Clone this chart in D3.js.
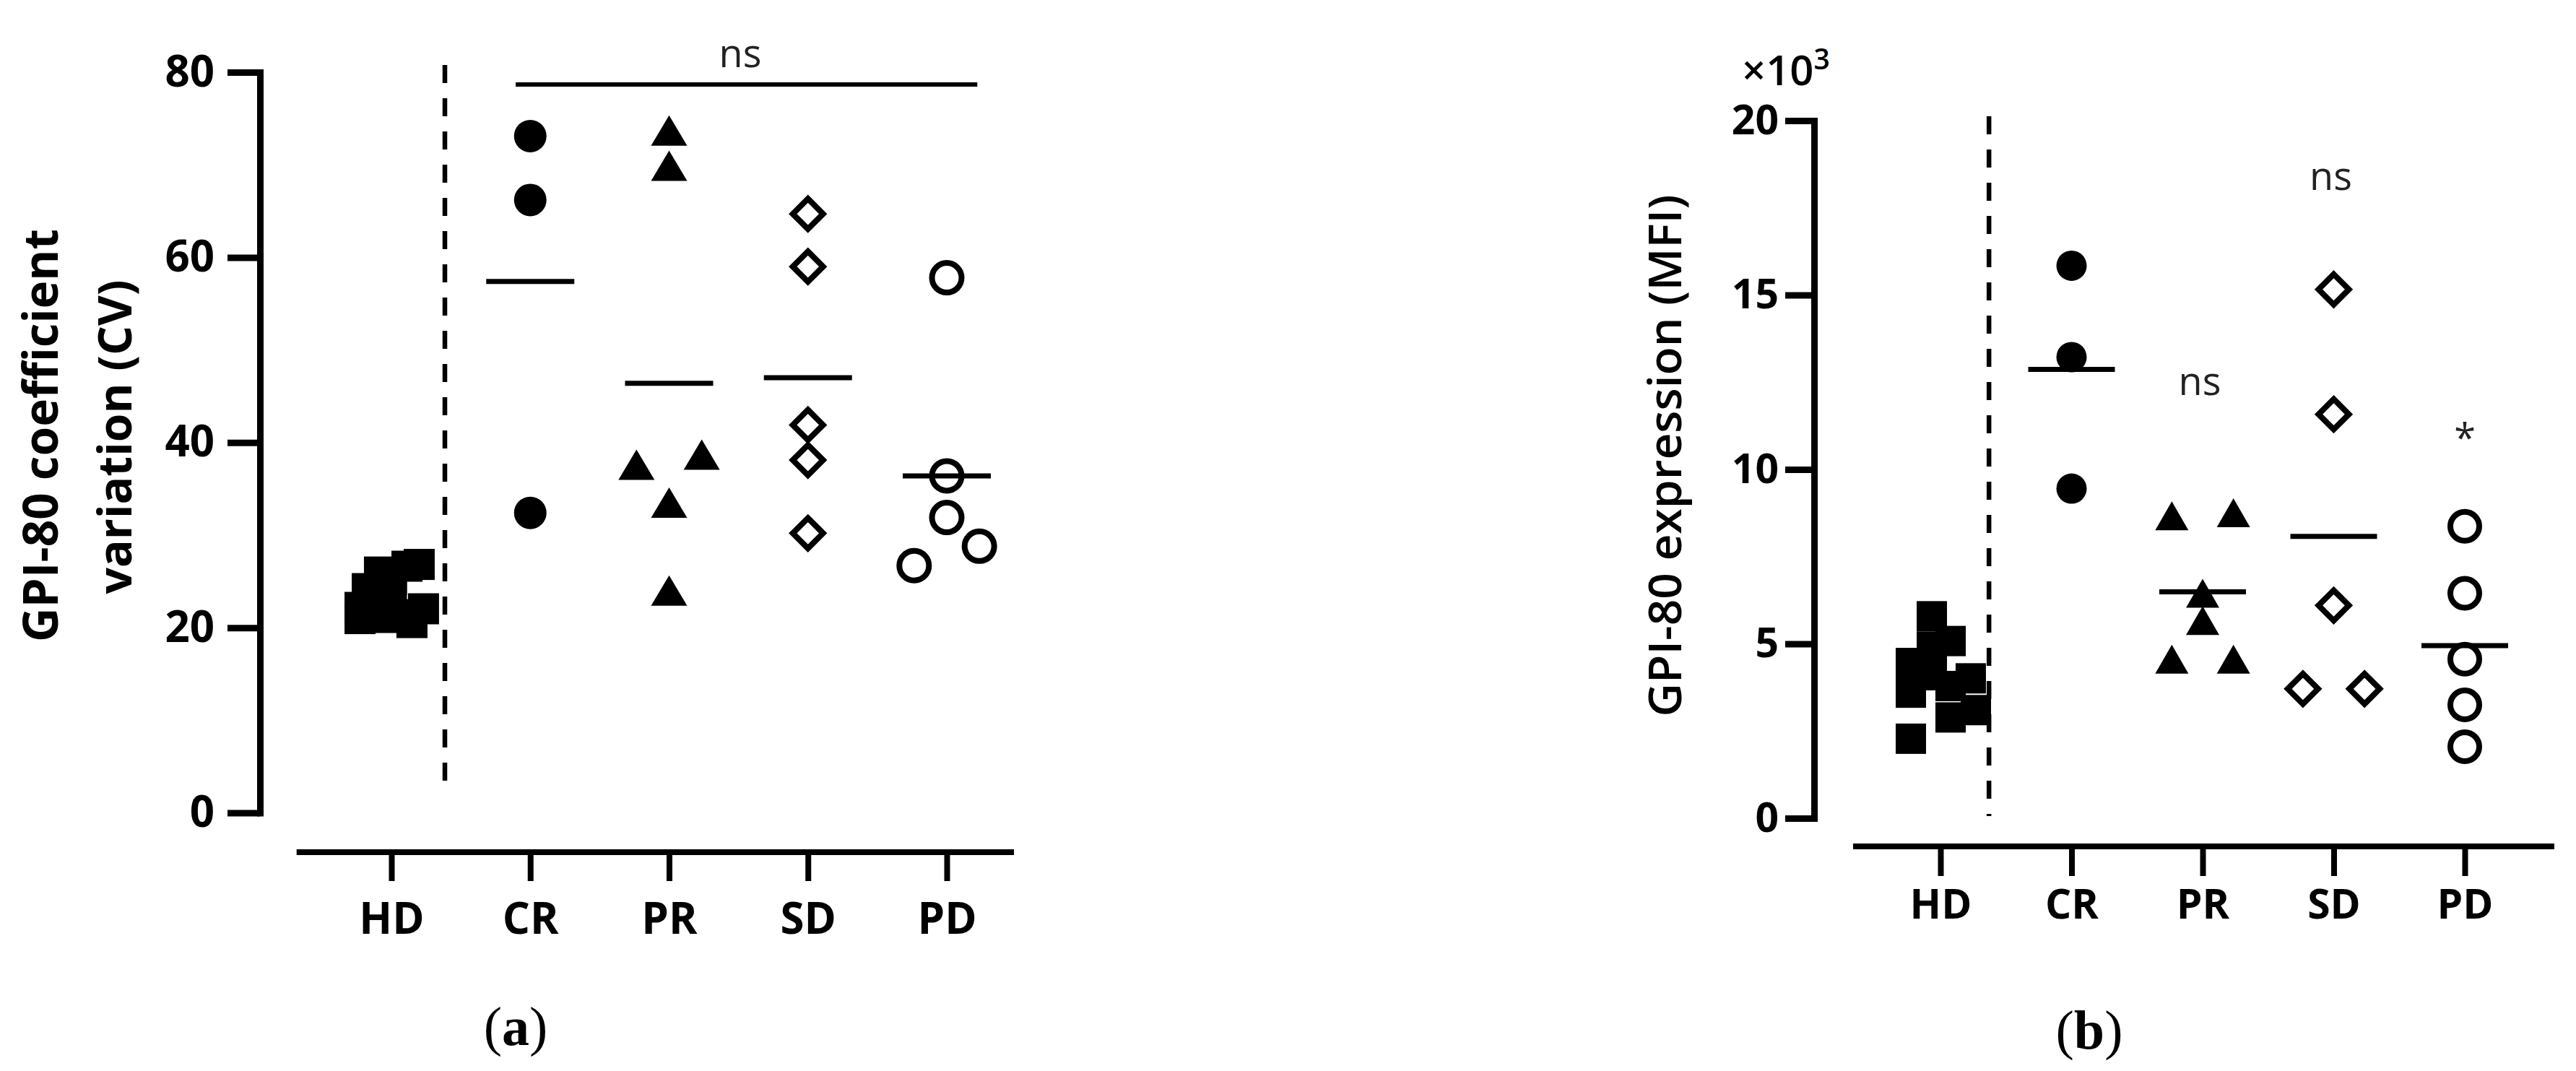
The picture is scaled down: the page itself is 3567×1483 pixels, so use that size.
<!DOCTYPE html>
<html>
<head>
<meta charset="utf-8">
<script src="https://cdn.jsdelivr.net/npm/d3@7"></script>
<style>
  html, body { margin: 0; padding: 0; background: #fff; }
  svg { display: block; }
</style>
</head>
<body>
<script>
// ---------------- DATA ----------------
const categories = ["HD", "CR", "PR", "SD", "PD"];

// Panel (a): GPI-80 coefficient variation (CV)
const cvTicks = [0, 20, 40, 60, 80];
const cvHD = [26.83, 26.64, 26.01, 24.22, 20.98, 22.19, 22.04, 20.55, 24.0, 22.6, 21.4, 21.1, 25.2];
const cvHDJitter = [0.20, 0.112, -0.086, -0.174, -0.226, -0.226, 0.231, 0.148, 0, -0.104, 0.094, -0.042, 0];
const cvCR = [73.1, 66.2, 32.4];
const cvCRCol = [0, 0, 0];
const cvPR = [73.7, 69.9, 37.6, 38.7, 33.5, 24.0];
const cvPRCol = [0, 0, -1, 1, 0, 0];
const cvSD = [64.7, 59.0, 41.9, 38.1, 30.2];
const cvSDCol = [0, 0, 0, 0, 0];
const cvPD = [57.8, 36.4, 31.9, 28.8, 26.7];
const cvPDCol = [0, 0, 0, 1, -1];
const cvMeans = [null, 57.4, 46.4, 47.0, 36.4];

// Panel (b): GPI-80 expression (MFI), x10^3
const mfiTicks = [0, 5, 10, 15, 20];
const mfiHD = [2.28, 5.79, 5.08, 4.45, 3.60, 4.01, 2.89, 3.10, 4.92, 4.10, 3.79];
const mfiHDJitter = [-0.226, -0.066, 0.077, -0.226, -0.226, 0.231, 0.077, 0.27, -0.066, -0.066, 0.077];
const mfiCR = [15.84, 13.22, 9.45];
const mfiCRCol = [0, 0, 0];
const mfiPR = [8.67, 8.76, 6.45, 5.67, 4.56, 4.56];
const mfiPRCol = [-1, 1, 0, 0, -1, 1];
const mfiSD = [15.16, 11.58, 6.10, 3.71, 3.71];
const mfiSDCol = [0, 0, 0, -1, 1];
const mfiPD = [8.37, 6.45, 4.56, 3.25, 2.05];
const mfiPDCol = [0, 0, 0, 0, 0];
const mfiMeans = [null, 12.87, 6.49, 8.08, 4.95];

// ---------------- DRAWING ----------------
const W = 3567, H = 1483;
const svg = d3.select("body").append("svg")
  .attr("width", W).attr("height", H)
  .attr("viewBox", `0 0 ${W} ${H}`);
svg.append("rect").attr("width", W).attr("height", H).attr("fill", "#fff");

const FONT = "'Open Sans', 'Noto Sans', sans-serif";

function fitText(sel, target) {
  const l = sel.node().getComputedTextLength();
  const fs = parseFloat(sel.attr("font-size"));
  sel.attr("font-size", (fs * target / l).toFixed(2));
}

function shapePath(shape, s) {
  if (shape === "tri") {
    const w = s.triW / 2, h = s.triH / 2;
    return `M0,${-h}L${w},${h}L${-w},${h}Z`;
  }
  if (shape === "diamond") {
    const d = s.diaR;
    return `M0,${-d}L${d},0L0,${d}L${-d},0Z`;
  }
  return null;
}

function drawGroup(g, x, y, cat, values, offs, shape, s) {
  const step = x.step();
  const pts = values.map((v, i) => ({ v, o: offs[i] }));
  const sel = g.append("g").selectAll("*").data(pts);
  const cx = d => x(cat) + d.o * step;
  if (shape === "square") {
    sel.join("rect")
      .attr("x", d => cx(d) - s.sq / 2)
      .attr("y", d => y(d.v) - s.sq / 2)
      .attr("width", s.sq).attr("height", s.sq)
      .attr("fill", "#000");
  } else if (shape === "disc") {
    sel.join("circle")
      .attr("cx", cx).attr("cy", d => y(d.v)).attr("r", s.discR)
      .attr("fill", "#000");
  } else if (shape === "ring") {
    sel.join("circle")
      .attr("cx", cx).attr("cy", d => y(d.v)).attr("r", s.ringR)
      .attr("fill", "none").attr("stroke", "#000").attr("stroke-width", s.sw);
  } else if (shape === "tri") {
    sel.join("path")
      .attr("d", shapePath("tri", s))
      .attr("transform", d => `translate(${cx(d)},${y(d.v)})`)
      .attr("fill", "#000");
  } else if (shape === "diamond") {
    sel.join("path")
      .attr("d", shapePath("diamond", s))
      .attr("transform", d => `translate(${cx(d)},${y(d.v)})`)
      .attr("fill", "none").attr("stroke", "#000").attr("stroke-width", s.sw)
      .attr("stroke-linejoin", "miter");
  }
}

function panel(cfg) {
  const g = svg.append("g");
  const x = d3.scalePoint().domain(categories).range(cfg.xRange);
  const y = d3.scaleLinear().domain([0, cfg.yMax]).range(cfg.yRange);
  const step = x.step();

  // Y axis
  const ya = g.append("g")
    .attr("transform", `translate(${cfg.yAxisX},0)`)
    .call(d3.axisLeft(y).tickValues(cfg.ticks).tickSize(cfg.yTickLen)
      .tickSizeOuter(0).tickPadding(cfg.yTickPad).tickFormat(d3.format("d")));
  ya.select(".domain").attr("stroke", "#000").attr("stroke-width", 9)
    .attr("stroke-linecap", "square");
  ya.selectAll(".tick line").attr("stroke", "#000").attr("stroke-width", 9);
  ya.selectAll(".tick text")
    .attr("font-family", FONT).attr("font-weight", 700)
    .attr("font-size", cfg.tickFont).attr("fill", "#000");

  // X axis (offset below)
  const xa = g.append("g")
    .attr("transform", `translate(0,${cfg.xAxisY})`)
    .call(d3.axisBottom(x).tickSize(cfg.xTickLen).tickSizeOuter(0).tickPadding(cfg.xTickPad));
  xa.select(".domain").remove();
  xa.append("line")
    .attr("x1", x("HD") - cfg.xLineL * step).attr("x2", x("PD") + cfg.xLineR * step)
    .attr("y1", 0).attr("y2", 0)
    .attr("stroke", "#000").attr("stroke-width", 8);
  xa.selectAll(".tick line").attr("stroke", "#000").attr("stroke-width", 8);
  xa.selectAll(".tick text")
    .attr("font-family", FONT).attr("font-weight", 700)
    .attr("font-size", cfg.catFont).attr("fill", "#000");

  // dashed separator
  const dx = x("HD") + cfg.dashFrac * step;
  g.append("line")
    .attr("x1", dx).attr("x2", dx)
    .attr("y1", cfg.dashTop).attr("y2", cfg.dashBottom)
    .attr("stroke", "#000").attr("stroke-width", 6.5)
    .attr("stroke-dasharray", "25,21");

  const col = 0.235;
  const s = cfg.sizes;
  drawGroup(g, x, y, "HD", cfg.hd, cfg.hdJ, "square", s);
  drawGroup(g, x, y, "CR", cfg.cr, cfg.crC.map(c => c * col), "disc", s);
  drawGroup(g, x, y, "PR", cfg.pr, cfg.prC.map(c => c * col), "tri", s);
  drawGroup(g, x, y, "SD", cfg.sd, cfg.sdC.map(c => c * col), "diamond", s);
  drawGroup(g, x, y, "PD", cfg.pd, cfg.pdC.map(c => c * col), "ring", s);

  // mean lines
  g.append("g").selectAll("line")
    .data(categories.map((c, i) => ({ c, m: cfg.means[i] })).filter(d => d.m != null))
    .join("line")
    .attr("x1", d => x(d.c) - cfg.meanHalf).attr("x2", d => x(d.c) + cfg.meanHalf)
    .attr("y1", d => y(d.m)).attr("y2", d => y(d.m))
    .attr("stroke", "#000").attr("stroke-width", 7);

  // axis title (rotated)
  cfg.title.forEach(t => {
    const tt = g.append("text")
      .attr("transform", `translate(${t.x},${t.y}) rotate(-90)`)
      .attr("text-anchor", "middle")
      .attr("font-family", FONT).attr("font-weight", t.weight)
      .attr("font-size", 70).attr("fill", "#000")
      .text(t.text);
    fitText(tt, t.len);
  });

  // panel label
  const pl = g.append("text")
    .attr("x", cfg.label.x).attr("y", cfg.label.y)
    .attr("text-anchor", "middle")
    .attr("font-family", "'Liberation Serif', 'DejaVu Serif', serif")
    .attr("font-size", 76).attr("fill", "#000");
  pl.append("tspan").text("(");
  pl.append("tspan").attr("font-weight", 700).text(cfg.label.t);
  pl.append("tspan").text(")");

  return { g, x, y, step };
}

// ---- Panel (a)
const A = panel({
  xRange: [542, 1311], yMax: 80, yRange: [1125.5, 100], ticks: cvTicks,
  yAxisX: 360, yTickLen: 45, yTickPad: 18, tickFont: 60,
  xAxisY: 1180, xTickLen: 40, xTickPad: 30, catFont: 60, xLineL: 0.683, xLineR: 0.484,
  dashFrac: 0.385, dashTop: 90, dashBottom: 1097,
  sizes: { sq: 43, discR: 22.5, ringR: 20.5, sw: 8, triW: 50, triH: 42, diaR: 21 },
  hd: cvHD, hdJ: cvHDJitter, cr: cvCR, crC: cvCRCol, pr: cvPR, prC: cvPRCol,
  sd: cvSD, sdC: cvSDCol, pd: cvPD, pdC: cvPDCol, means: cvMeans, meanHalf: 61,
  title: [
    { text: "GPI-80 coefficient", x: 80, y: 603, len: 572, weight: 700 },
    { text: "variation (CV)", x: 182, y: 605, len: 435, weight: 700 }
  ],
  label: { x: 714, y: 1447, t: "a" }
});
// significance bar (a)
A.g.append("line")
  .attr("x1", A.x("CR") - 0.105 * A.step).attr("x2", A.x("PD") + 0.22 * A.step)
  .attr("y1", 117).attr("y2", 117)
  .attr("stroke", "#000").attr("stroke-width", 6);
A.g.append("text")
  .attr("x", 1025).attr("y", 93).attr("text-anchor", "middle")
  .attr("font-family", FONT).attr("font-size", 54).attr("fill", "#222")
  .text("ns");

// ---- Panel (b)
const B = panel({
  xRange: [2687, 3413], yMax: 20, yRange: [1133, 167], ticks: mfiTicks,
  yAxisX: 2512, yTickLen: 40, yTickPad: 9, tickFont: 57,
  xAxisY: 1172, xTickLen: 41, xTickPad: 19, catFont: 57, xLineL: 0.667, xLineR: 0.683,
  dashFrac: 0.37, dashTop: 161, dashBottom: 1130,
  sizes: { sq: 42, discR: 21, ringR: 20, sw: 8, triW: 46, triH: 40, diaR: 21 },
  hd: mfiHD, hdJ: mfiHDJitter, cr: mfiCR, crC: mfiCRCol, pr: mfiPR, prC: mfiPRCol,
  sd: mfiSD, sdC: mfiSDCol, pd: mfiPD, pdC: mfiPDCol, means: mfiMeans, meanHalf: 60,
  title: [
    { text: "GPI-80 expression (MFI)", x: 2328, y: 631, len: 723, weight: 600 }
  ],
  label: { x: 2893, y: 1452, t: "b" }
});
// multiplier label
const mult = B.g.append("text")
  .attr("x", 2412).attr("y", 118)
  .attr("font-family", FONT).attr("font-weight", 600)
  .attr("font-size", 58).attr("fill", "#000");
mult.append("tspan").text("×10");
mult.append("tspan").attr("font-size", 39).attr("dy", -22).text("3");

// significance labels (b)
[["ns", B.x("PR") - 4, 547], ["ns", B.x("SD") - 4, 263], ["*", B.x("PD"), 626]].forEach(([t, px, py]) => {
  B.g.append("text")
    .attr("x", px).attr("y", py).attr("text-anchor", "middle")
    .attr("font-family", FONT).attr("font-size", 54).attr("fill", "#222")
    .text(t);
});
</script>
</body>
</html>
